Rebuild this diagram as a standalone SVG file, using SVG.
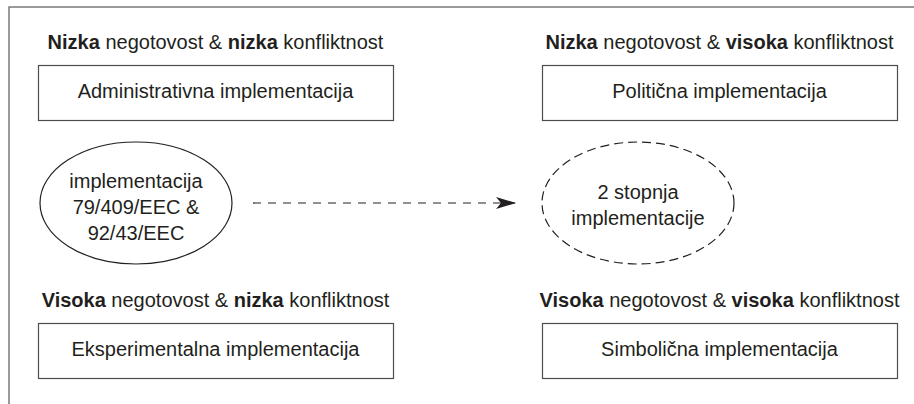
<svg xmlns="http://www.w3.org/2000/svg" width="914" height="404" viewBox="0 0 914 404">
  <defs>
    <style>
      text { font-family: "Liberation Sans", Arial, sans-serif; font-size: 20px; fill: #231f20; text-anchor: middle; }
      .b { font-weight: bold; }
      .box { fill: #ffffff; stroke: #4d4d4d; stroke-width: 1.2; }
      .ell { fill: #ffffff; stroke: #231f20; stroke-width: 1.2; }
      .dashed { stroke-dasharray: 9 5; }
      .frame { fill: none; stroke: #7a7a7a; stroke-width: 1.5; }
      .conn { fill: none; stroke: #231f20; stroke-width: 1.2; stroke-dasharray: 8 7; }
    </style>
    <marker id="arrow" viewBox="0 0 20 12" refX="19" refY="6" markerWidth="20" markerHeight="12" markerUnits="userSpaceOnUse" orient="auto">
      <path d="M0,0 L20,6 L0,12 L5,6 Z" fill="#231f20"/>
    </marker>
  </defs>
  <rect width="914" height="404" fill="#ffffff"/>
  <path class="frame" d="M9,404 L9,7 L914,7"/>

  <g id="node-administrativna">
    <text x="215.5" y="49"><tspan class="b">Nizka</tspan> negotovost &amp; <tspan class="b">nizka</tspan> konfliktnost</text>
    <rect class="box" x="38.5" y="65.5" width="355" height="55"/>
    <text x="215.5" y="98">Administrativna implementacija</text>
  </g>

  <g id="node-politicna">
    <text x="719.5" y="49"><tspan class="b">Nizka</tspan> negotovost &amp; <tspan class="b">visoka</tspan> konfliktnost</text>
    <rect class="box" x="542.5" y="65.5" width="355" height="55"/>
    <text x="719.5" y="98">Politična implementacija</text>
  </g>

  <g id="node-implementacija">
    <ellipse class="ell" cx="136" cy="203" rx="96" ry="61"/>
    <text x="136" y="188">implementacija</text>
    <text x="136" y="214">79/409/EEC &amp;</text>
    <text x="136" y="240">92/43/EEC</text>
  </g>

  <g id="node-stopnja">
    <ellipse class="ell dashed" cx="638" cy="203" rx="96" ry="61"/>
    <text x="638" y="199">2 stopnja</text>
    <text x="638" y="225">implementacije</text>
  </g>

  <g id="node-eksperimentalna">
    <text x="215.5" y="307"><tspan class="b">Visoka</tspan> negotovost &amp; <tspan class="b">nizka</tspan> konfliktnost</text>
    <rect class="box" x="38.5" y="323.5" width="355" height="55"/>
    <text x="215.5" y="356">Eksperimentalna implementacija</text>
  </g>

  <g id="node-simbolicna">
    <text x="719.5" y="307"><tspan class="b">Visoka</tspan> negotovost &amp; <tspan class="b">visoka</tspan> konfliktnost</text>
    <rect class="box" x="542.5" y="323.5" width="355" height="55"/>
    <text x="719.5" y="356">Simbolična implementacija</text>
  </g>

  <g id="connectors">
    <path class="conn" d="M253,203 L515,203" marker-end="url(#arrow)"/>
  </g>
</svg>
